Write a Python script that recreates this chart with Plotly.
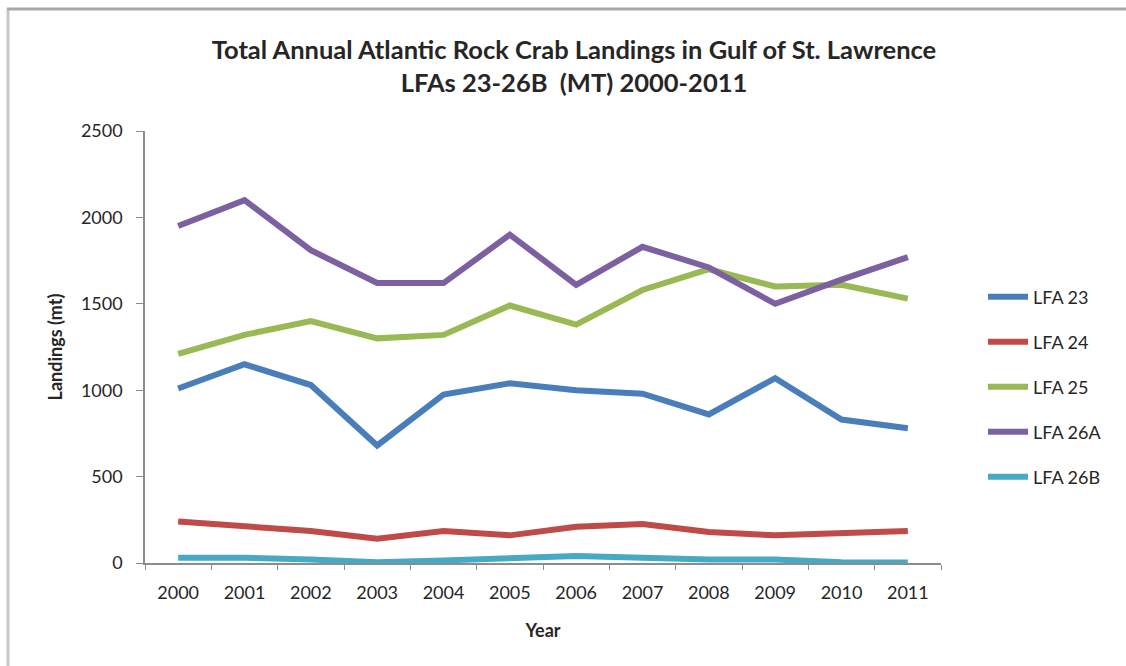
import plotly.graph_objects as go

years = ["2000", "2001", "2002", "2003", "2004", "2005",
         "2006", "2007", "2008", "2009", "2010", "2011"]

lfa_23 = [1010, 1150, 1030, 680, 975, 1040, 1000, 980, 860, 1070, 830, 780]
lfa_24 = [240, 210, 185, 140, 185, 160, 210, 225, 180, 160, 170, 185]
lfa_25 = [1210, 1320, 1400, 1300, 1320, 1490, 1380, 1580, 1700, 1600, 1610, 1530]
lfa_26a = [1950, 2100, 1810, 1620, 1620, 1900, 1610, 1830, 1710, 1500, 1640, 1770]
lfa_26b = [30, 30, 20, 5, 15, 30, 40, 30, 20, 20, 5, 3]

series = [
    ("LFA 23", lfa_23, "#4a7ebb"),
    ("LFA 24", lfa_24, "#be4b48"),
    ("LFA 25", lfa_25, "#98b954"),
    ("LFA 26A", lfa_26a, "#7d60a0"),
    ("LFA 26B", lfa_26b, "#46aac5"),
]

font_family = "Lato, 'Open Sans', sans-serif"
text_color = "#262626"

# plot area in pixels
L, R, T, B = 145, 941, 131, 563
W, H = 1126, 666
pw, ph = R - L, B - T


def px_x(x):
    return (x - L) / pw


def px_y(y):
    return (B - y) / ph


# one legend box per series so the entries can be spaced out vertically
legend_rows = [297, 342, 387, 432, 477]
legend_ids = ["legend", "legend2", "legend3", "legend4", "legend5"]

fig = go.Figure()
for (name, values, color), lid in zip(series, legend_ids):
    fig.add_trace(go.Scatter(
        x=years, y=values, name=name, mode="lines",
        line=dict(color=color, width=6),
        legend=lid,
    ))

legend_layout = {}
for lid, row in zip(legend_ids, legend_rows):
    legend_layout[lid] = dict(
        x=px_x(983), y=px_y(row), xanchor="left", yanchor="middle",
        font=dict(size=18, family=font_family, color=text_color),
        itemwidth=40, bgcolor="rgba(0,0,0,0)",
        borderwidth=0,
    )

fig.update_layout(
    width=W, height=H,
    margin=dict(l=L, r=W - R, t=T, b=H - B),
    paper_bgcolor="white",
    plot_bgcolor="white",
    font=dict(family=font_family, color=text_color),
    title=dict(
        text="<b>Total Annual Atlantic Rock Crab Landings in Gulf of St. Lawrence<br>LFAs 23-26B  (MT) 2000-2011</b>",
        x=574 / W, xref="container", xanchor="center",
        y=1 - 59 / H, yref="container", yanchor="middle",
        font=dict(size=25.5, family=font_family, color=text_color),
    ),
    showlegend=True,
    shapes=[
        dict(type="line", xref="paper", yref="paper",
             x0=px_x(8), x1=px_x(8), y0=px_y(9), y1=px_y(666),
             line=dict(color="#c8c8c8", width=3)),
        dict(type="line", xref="paper", yref="paper",
             x0=px_x(7), x1=px_x(1126), y0=px_y(9), y1=px_y(9),
             line=dict(color="#a8a8a8", width=3)),
    ],
    **legend_layout,
)

fig.update_xaxes(
    type="category",
    range=[-0.5, 11.5],
    showgrid=False,
    showline=True, linecolor="#8c8c8c", linewidth=1.5,
    ticks="outside", ticklen=5, tickcolor="#8c8c8c",
    tickson="boundaries",
    ticklabelstandoff=13,
    tickfont=dict(size=18, family=font_family, color=text_color),
    title=dict(text="<b>Year</b>", font=dict(size=18, family=font_family, color=text_color),
               standoff=22),
    zeroline=False,
)

fig.update_yaxes(
    range=[0, 2500],
    dtick=500,
    showgrid=False,
    showline=True, linecolor="#8c8c8c", linewidth=1.5,
    ticks="outside", ticklen=7, tickcolor="#8c8c8c",
    ticklabelstandoff=10,
    tickfont=dict(size=18, family=font_family, color=text_color),
    title=dict(text="<b>Landings (mt)</b>", font=dict(size=18, family=font_family, color=text_color),
               standoff=14),
    zeroline=False,
)

fig.write_html("out.html")
